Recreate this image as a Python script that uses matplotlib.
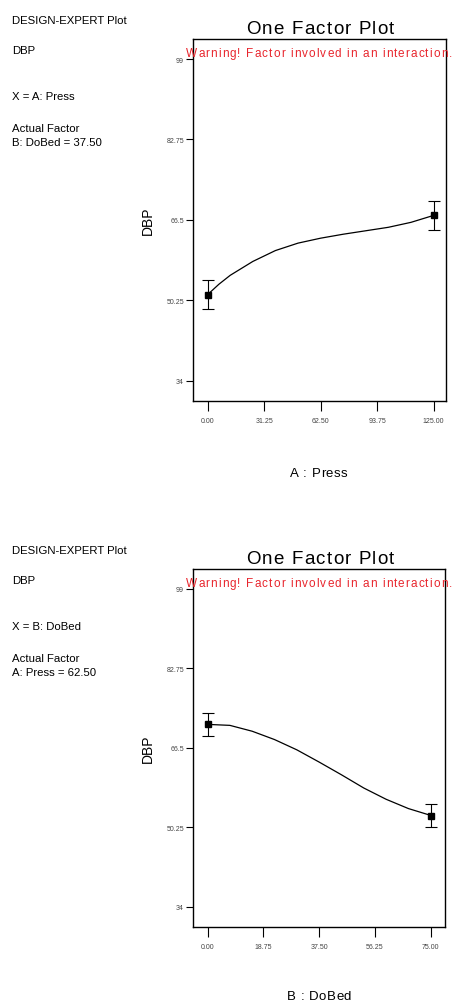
import matplotlib
matplotlib.use('Agg')
import matplotlib.pyplot as plt

W, H = 454, 1003
SANS = ['Liberation Sans', 'DejaVu Sans']

# y axis shared by both panels
dbp_ticks = [34, 50.25, 66.5, 82.75, 99]
dbp_labels = ['34', '50.25', '66.5', '82.75', '99']

# A: Press panel
press_ticks = [0, 31.25, 62.5, 93.75, 125]
press_labels = ['0.00', '31.25', '62.50', '93.75', '125.00']
press_x = [0, 125]
press_dbp = [51.4, 67.4]
press_err = [2.85, 2.87]
press_curve_x = [0, 6.25, 12.5, 25, 37.5, 50, 62.5, 75, 87.5, 100, 112.5, 125]
press_curve_y = [51.4, 53.5, 55.3, 58.1, 60.3, 61.8, 62.8, 63.6, 64.3, 65.0, 66.0, 67.4]

# B: DoBed panel
dobed_ticks = [0, 18.75, 37.5, 56.25, 75]
dobed_labels = ['0.00', '18.75', '37.50', '56.25', '75.00']
dobed_x = [0, 75]
dobed_dbp = [71.3, 52.6]
dobed_err = [2.35, 2.35]
dobed_curve_x = [0, 7.5, 15, 22.5, 30, 37.5, 45, 52.5, 60, 67.5, 75]
dobed_curve_y = [71.3, 71.1, 69.9, 68.2, 66.1, 63.6, 61.0, 58.3, 56.0, 54.1, 52.7]


def tracked(fig, x, y, s, track, size, ha='left', color='black'):
    # draw a string glyph by glyph on a common baseline, with extra spacing (px)
    r = fig.canvas.get_renderer()

    def width(t):
        tmp = fig.text(0, 0, t + '|', fontsize=size, family=SANS)
        w = tmp.get_window_extent(r).width
        tmp.remove()
        return w

    base = width('')
    offs = [width(s[:i]) - base + track * i for i in range(len(s))]
    total = width(s) - base + track * (len(s) - 1)
    x0 = x - total / 2 if ha == 'center' else x
    for ch, o in zip(s, offs):
        fig.text((x0 + o) / W, 1 - y / H, ch, ha='left', va='baseline',
                 fontsize=size, family=SANS, color=color)


def panel(fig, box, dy, xlim, ticks, labels, px_, py_, err, cx, cy,
          xname, xname_y, factor_lines):
    left, top, right, bottom = box
    ax = fig.add_axes([left / W, 1 - bottom / H, (right - left) / W, (bottom - top) / H])
    ax.plot(cx, cy, color='black', lw=0.9)
    ax.errorbar(px_, py_, yerr=err, fmt='s', color='black', ms=4.3,
                elinewidth=0.8, capsize=4, capthick=0.8)
    ax.set_xlim(*xlim)
    ax.set_ylim(29.9, 103.05)
    ax.set_xticks(ticks)
    ax.set_xticklabels(labels)
    ax.set_yticks(dbp_ticks)
    ax.set_yticklabels(dbp_labels)
    ax.tick_params(axis='x', length=7, width=0.8, pad=4.5, labelsize=5,
                   labelcolor='#444444')
    ax.tick_params(axis='y', length=5, width=0.8, pad=1.5, labelsize=5,
                   labelcolor='#444444')
    for lab in ax.get_xticklabels() + ax.get_yticklabels():
        lab.set_family(SANS)
    for sp in ax.spines.values():
        sp.set_linewidth(1.0)

    # left-hand notes
    notes = [('DESIGN-EXPERT Plot', 20.5), ('DBP', 50.5)] + factor_lines
    for txt, y in notes:
        fig.text(12 / W, 1 - (y + dy) / H, txt, ha='left', va='center',
                 fontsize=8.2, family=SANS)

    tracked(fig, 320, 34 + dy, 'One Factor Plot', 1.25, 13.5, ha='center')
    tracked(fig, 186, 56.8 + dy, 'Warning! Factor involved in an interaction.',
            1.1, 8.5, color='#e8252d')
    fig.text(148 / W, 1 - (top + bottom) / 2 / H, 'DBP', rotation=90,
             ha='center', va='center', fontsize=10, family=SANS)
    tracked(fig, 319, xname_y, xname, 0.55, 9.5, ha='center')
    return ax


fig = plt.figure(figsize=(W / 100, H / 100), dpi=100)

panel(fig, (193, 40, 446, 402), 0, (-8.1, 131.9), press_ticks, press_labels,
      press_x, press_dbp, press_err, press_curve_x, press_curve_y, 'A : Press', 477,
      [('X = A: Press', 97.5), ('Actual Factor', 128.5), ('B: DoBed = 37.50', 143.5)])

panel(fig, (193, 570, 445, 928), 530, (-4.9, 79.8), dobed_ticks, dobed_labels,
      dobed_x, dobed_dbp, dobed_err, dobed_curve_x, dobed_curve_y, 'B : DoBed', 1000.5,
      [('X = B: DoBed', 97.5), ('Actual Factor', 128.5), ('A: Press = 62.50', 143.5)])

fig.savefig('out.png', dpi=100)
